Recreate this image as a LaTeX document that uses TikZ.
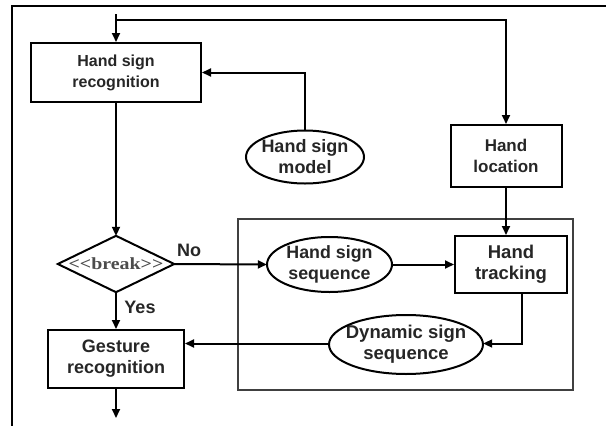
\documentclass[tikz,border=0pt]{standalone}
\usepackage{fontspec}
\setmainfont{Liberation Sans}
\newfontfamily\serifb{Liberation Serif}
\usetikzlibrary{shapes.geometric,arrows.meta}
\newcommand{\fs}[1]{\fontsize{#1}{21}\selectfont\bfseries}
\begin{document}
\begin{tikzpicture}[x=1pt,y=-1pt,
  every node/.style={font=\fs{18}, text=black!85, align=center, inner sep=0pt},
  boxn/.style={draw, line width=2pt, rectangle},
  outl/.style={line width=2pt},
  conn/.style={line width=2pt, -{Triangle[length=9pt,width=8pt]}}]
\useasboundingbox (0,0) rectangle (606,426);
\draw[line width=2.2pt] (606,6) -- (12,6) -- (12,426);
\draw[line width=1.2pt, black!75] (238,219) rectangle (573,390);

\node[boxn, minimum width=170pt, minimum height=59pt, font=\fs{16}] (hsr) at (116,72.5) {Hand sign\\recognition};
\node[minimum width=118pt, minimum height=53pt, font=\fs{18}] (hsm) at (305,157) {Hand sign\\model};
\draw[outl] (hsm.center) ellipse [x radius=59pt, y radius=26.5pt];
\node[boxn, minimum width=111pt, minimum height=62pt, font=\fs{17}] (hl) at (506,156) {Hand\\location};
\node[boxn, minimum width=112pt, minimum height=57pt, font=\fs{18.5}] (ht) at (511,264.5) {Hand\\tracking};
\node[minimum width=116pt, minimum height=56pt] (dec) at (116,264) {};
\draw[outl, line join=miter] (dec.north) -- (dec.east) -- (dec.south) -- (dec.west) -- cycle;
\node[font=\serifb\fontsize{17}{20}\selectfont\bfseries, text=black!70] (dectext) at (dec.center) {\scalebox{1.17}[1]{<<break>>}};
\node[minimum width=125pt, minimum height=55pt, font=\fs{17.8}] (hss) at (329.5,264.5) {Hand sign\\sequence};
\draw[outl] (hss.center) ellipse [x radius=62.5pt, y radius=27.5pt];
\node[minimum width=154pt, minimum height=59pt, font=\fs{18.5}] (dss) at (406,344.5) {Dynamic sign\\sequence};
\draw[outl] (dss.center) ellipse [x radius=77pt, y radius=29.5pt];
\node[boxn, minimum width=136pt, minimum height=58pt, font=\fs{18}] (gr) at (116,359) {Gesture\\recognition};

\node (no) at (189,250) {No};
\node (yes) at (140,307) {Yes};

\coordinate (top) at (116,14);
\coordinate (j) at (116,20);
\coordinate (bot) at (116,418);
\coordinate (htout) at ([xshift=11pt]ht.south);

\draw[conn] (top) -- (hsr.north);
\draw[conn] (j) -| (hl.north);
\draw[conn] (hsm.north) |- (hsr.east);
\draw[conn] (hsr.south) -- (dec.north);
\draw[conn] (dec.east) -- (hss.west);
\draw[conn] (hss.east) -- (ht.west);
\draw[conn] (hl.south) -- (hl.south |- ht.north);
\draw[conn] (htout) |- ([yshift=1pt]dss.east);
\draw[conn] ([yshift=1pt]dss.west) -- ([yshift=1pt]dss.west -| gr.east);
\draw[conn] (dec.south) -- (gr.north);
\draw[conn] (gr.south) -- (bot);
\end{tikzpicture}
\end{document}
